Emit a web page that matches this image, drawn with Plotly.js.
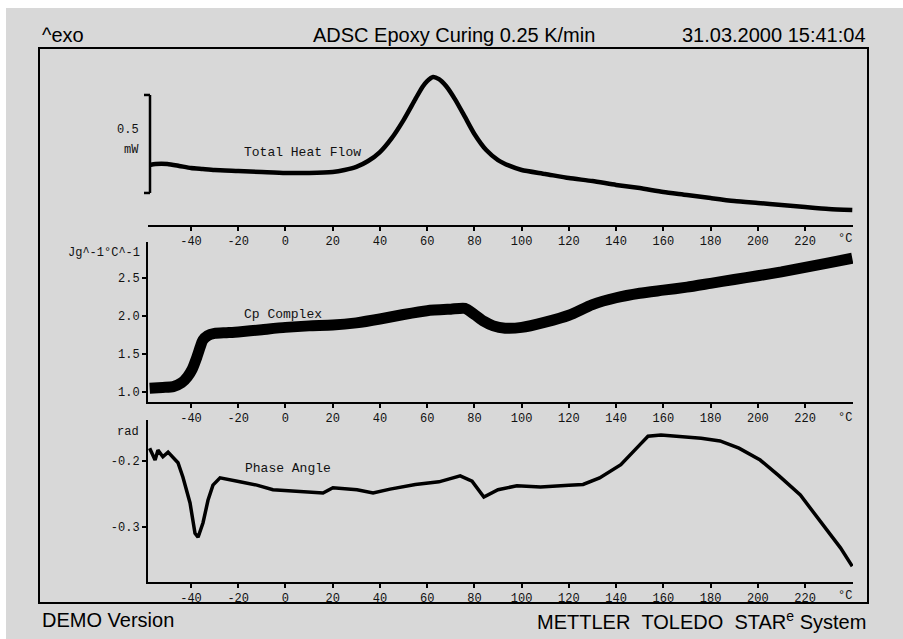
<!DOCTYPE html>
<html>
<head>
<meta charset="utf-8">
<script src="https://cdn.plot.ly/plotly-3.0.1.min.js"></script>
<style>html,body{margin:0;padding:0;background:#d8d8d8;}#chart{width:903px;height:639px;}</style>
</head>
<body>
<div id="chart"></div>
<script>
// ---- data ----
const tHF = [-57.5,-55,-50,-45,-40,-35,-30,-20,-10,0,10,20,25,30,35,40,45,50,55,58,60,62.5,65,68,72,76,80,85,90,95,100,110,120,130,140,150,160,170,180,190,200,210,220,230,240];
const heatFlow = [0.036,0.041,0.041,0.031,0.020,0.015,0.010,0.005,0.000,-0.005,-0.005,0.000,0.010,0.026,0.056,0.102,0.173,0.265,0.372,0.434,0.464,0.485,0.474,0.439,0.367,0.281,0.194,0.112,0.061,0.031,0.010,-0.010,-0.031,-0.046,-0.066,-0.082,-0.102,-0.117,-0.133,-0.148,-0.158,-0.168,-0.179,-0.189,-0.194];

const tCp = [-57.5,-52,-47.5,-44,-41.5,-39.5,-37.5,-36,-35,-33,-30,-25,-20,-10,0,10,20,30,40,50,60,70,76,80,84,88,93,100,110,120,130,140,150,160,170,180,190,200,210,220,230,240];
const cpComplex = [1.05,1.06,1.07,1.12,1.2,1.3,1.46,1.6,1.68,1.74,1.77,1.78,1.79,1.82,1.85,1.87,1.88,1.91,1.96,2.02,2.07,2.09,2.1,2.02,1.93,1.87,1.84,1.85,1.92,2.01,2.15,2.24,2.3,2.34,2.38,2.43,2.48,2.53,2.58,2.64,2.7,2.76];

const tPh = [-57.5,-55.2,-54,-51.9,-49.7,-47.6,-45.5,-43.4,-40.4,-38.3,-37,-34.9,-32.8,-30.7,-27.7,-19.3,-12.1,-5.3,9.1,15.9,20.1,30.3,37.1,44.3,55,65,74,79,84,90,98,108,120,126,133,142,150,153.5,159,176,184,192,201,209,218,226,235,240];
const phaseAngle = [-0.181,-0.199,-0.184,-0.194,-0.187,-0.196,-0.203,-0.225,-0.264,-0.310,-0.316,-0.294,-0.260,-0.237,-0.226,-0.232,-0.237,-0.244,-0.247,-0.249,-0.241,-0.244,-0.249,-0.243,-0.236,-0.232,-0.223,-0.231,-0.255,-0.244,-0.238,-0.240,-0.237,-0.236,-0.226,-0.206,-0.176,-0.163,-0.161,-0.166,-0.170,-0.181,-0.199,-0.223,-0.252,-0.290,-0.332,-0.360];

const xTickVals = [-40,-20,0,20,40,60,80,100,120,140,160,180,200,220];
const xTickText = ['-40','-20','0','20','40','60','80','100','120','140','160','180','200','220'];
const cpTickVals = [1.0,1.5,2.0,2.5];
const cpTickText = ['1.0','1.5','2.0','2.5'];
const phTickVals = [-0.3,-0.2];
const phTickText = ['-0.3','-0.2'];

const titleText = 'ADSC Epoxy Curing 0.25 K/min';
const dateText = '31.03.2000 15:41:04';
const seriesNames = ['Total Heat Flow','Cp Complex','Phase Angle'];

// ---- layout helpers (pixel -> paper) ----
const W = 903, H = 639;
const px = x => x / W;
const py = y => 1 - y / H;
const mono = 'Liberation Mono, DejaVu Sans Mono, monospace';
const sans = 'Liberation Sans, Arial, sans-serif';

const traces = [
  {x: tHF, y: heatFlow, xaxis: 'x', yaxis: 'y', mode: 'lines', line: {color: '#000', width: 4.5, shape: 'spline', smoothing: 0.6}, name: seriesNames[0]},
  {x: tCp, y: cpComplex, xaxis: 'x2', yaxis: 'y2', mode: 'lines', line: {color: '#000', width: 11, shape: 'spline', smoothing: 0.6}, name: seriesNames[1]},
  {x: tPh, y: phaseAngle, xaxis: 'x3', yaxis: 'y3', mode: 'lines', line: {color: '#000', width: 3.5}, name: seriesNames[2]}
];

const xRange = [-58.2, 240.3];
const xDom = [px(148), px(853)];
function xAxis(anchor) {
  return {domain: xDom, anchor: anchor, range: xRange, tickmode: 'array', tickvals: xTickVals, ticktext: xTickText,
    ticks: 'outside', ticklen: 4, tickwidth: 2, tickcolor: '#000', showline: true, linewidth: 2, linecolor: '#000',
    showgrid: false, zeroline: false, tickfont: {family: mono, size: 12, color: '#111'}, fixedrange: true};
}
function yAxis(anchor, dom, range, vals, text) {
  return {domain: dom, anchor: anchor, range: range, tickmode: 'array', tickvals: vals, ticktext: text,
    ticks: 'outside', ticklen: 4, tickwidth: 2, tickcolor: '#000', showline: true, linewidth: 2, linecolor: '#000',
    showgrid: false, zeroline: false, tickfont: {family: mono, size: 12, color: '#111'}, fixedrange: true};
}

const hfRange = [(172 - 225) / 196, (172 - 60) / 196];
const ann = (text, x, y, xa, font) => ({text: text, xref: 'paper', yref: 'paper', x: px(x), y: py(y), xanchor: xa, yanchor: 'middle', showarrow: false, font: font});
const hdr = {family: sans, size: 20, color: '#000'};
const mf = {family: mono, size: 12, color: '#111'};
const lf = {family: mono, size: 13, color: '#111'};

const layout = {
  width: W, height: H,
  margin: {l: 0, r: 0, t: 0, b: 0},
  paper_bgcolor: '#d8d8d8', plot_bgcolor: 'rgba(0,0,0,0)',
  showlegend: false,
  xaxis: xAxis('y'),
  xaxis2: xAxis('y2'),
  xaxis3: xAxis('y3'),
  yaxis: {domain: [py(225), py(60)], anchor: 'x', range: hfRange, visible: false, fixedrange: true},
  yaxis2: yAxis('x2', [py(402), py(242)], [0.868, 2.974], cpTickVals, cpTickText),
  yaxis3: yAxis('x3', [py(582), py(420)], [-0.3838, -0.1383], phTickVals, phTickText),
  shapes: [
    {type: 'rect', xref: 'paper', yref: 'paper', x0: 0, x1: px(6), y0: 0, y1: 1, fillcolor: '#fff', line: {width: 0}, layer: 'below'},
    {type: 'rect', xref: 'paper', yref: 'paper', x0: 0, x1: 1, y0: py(8), y1: 1, fillcolor: '#fff', line: {width: 0}, layer: 'below'},
    {type: 'rect', xref: 'paper', yref: 'paper', x0: px(39), x1: px(868), y0: py(603), y1: py(48), line: {color: '#000', width: 2}},
    // 0.5 mW scale bracket
    {type: 'line', xref: 'paper', yref: 'y', x0: px(150), x1: px(150), y0: 0.393, y1: -0.107, line: {color: '#000', width: 2.5}},
    {type: 'line', xref: 'paper', yref: 'y', x0: px(144), x1: px(150), y0: 0.393, y1: 0.393, line: {color: '#000', width: 2.5}},
    {type: 'line', xref: 'paper', yref: 'y', x0: px(144), x1: px(150), y0: -0.107, y1: -0.107, line: {color: '#000', width: 2.5}}
  ],
  annotations: [
    ann('^exo', 40, 35, 'left', hdr),
    ann(titleText, 454, 35, 'center', hdr),
    ann(dateText, 868, 35, 'right', hdr),
    ann('DEMO Version', 40, 620, 'left', hdr),
    ann('METTLER\u00a0\u00a0TOLEDO\u00a0\u00a0STAR<sup>e</sup>\u00a0System', 868, 620, 'right', hdr),
    ann('0.5', 141, 130, 'right', mf),
    ann('mW', 141, 150, 'right', mf),
    ann('Jg^-1°C^-1', 142, 253, 'right', mf),
    ann('rad', 141, 432, 'right', mf),
    ann('°C', 845, 239, 'center', mf),
    ann('°C', 845, 418, 'center', mf),
    ann('°C', 845, 596, 'center', mf),
    ann(seriesNames[0], 242, 152, 'left', lf),
    ann(seriesNames[1], 242, 314, 'left', lf),
    ann(seriesNames[2], 243, 468, 'left', lf)
  ]
};

Plotly.newPlot('chart', traces, layout, {staticPlot: true, displayModeBar: false});
</script>
</body>
</html>
